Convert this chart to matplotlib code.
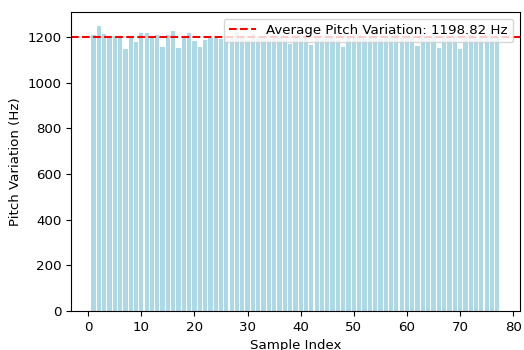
import numpy as np
import matplotlib
matplotlib.use("Agg")
import matplotlib.pyplot as plt

# ── 数据──────────────────────────────────────────────────────
sample_index = np.arange(1, 78)
pitch_variation = [
    1209, 1248, 1213, 1202, 1206, 1199, 1148, 1194, 1180, 1216,
    1216, 1203, 1211, 1158, 1209, 1228, 1153, 1194, 1216, 1183,
    1155, 1187, 1198, 1198, 1190, 1205, 1196, 1226, 1201, 1188,
    1213, 1199, 1207, 1192, 1210, 1203, 1186, 1172, 1208, 1197,
    1214, 1165, 1201, 1193, 1219, 1205, 1189, 1158, 1206, 1198,
    1211, 1194, 1203, 1215, 1190, 1207, 1199, 1212, 1196, 1204,
    1200, 1160, 1209, 1195, 1213, 1153, 1202, 1198, 1207, 1148,
    1205, 1210, 1201, 1196, 1208, 1203, 1199,
]
avg_pitch = 1198.82

plt.rcParams["font.size"] = 9.6

fig, ax = plt.subplots(figsize=(5.24, 3.5), dpi=100)
ax.bar(sample_index, pitch_variation, color="lightblue")
ax.axhline(avg_pitch, color="red", linestyle="--", linewidth=1.5,
           label=f"Average Pitch Variation: {avg_pitch:.2f} Hz")

ax.set_xlabel("Sample Index")
ax.set_ylabel("Pitch Variation (Hz)")
ax.legend(loc="upper right")

plt.subplots_adjust(left=0.1355, right=0.992, top=0.966, bottom=0.111)
plt.savefig("out.png", dpi=100)
plt.close()
